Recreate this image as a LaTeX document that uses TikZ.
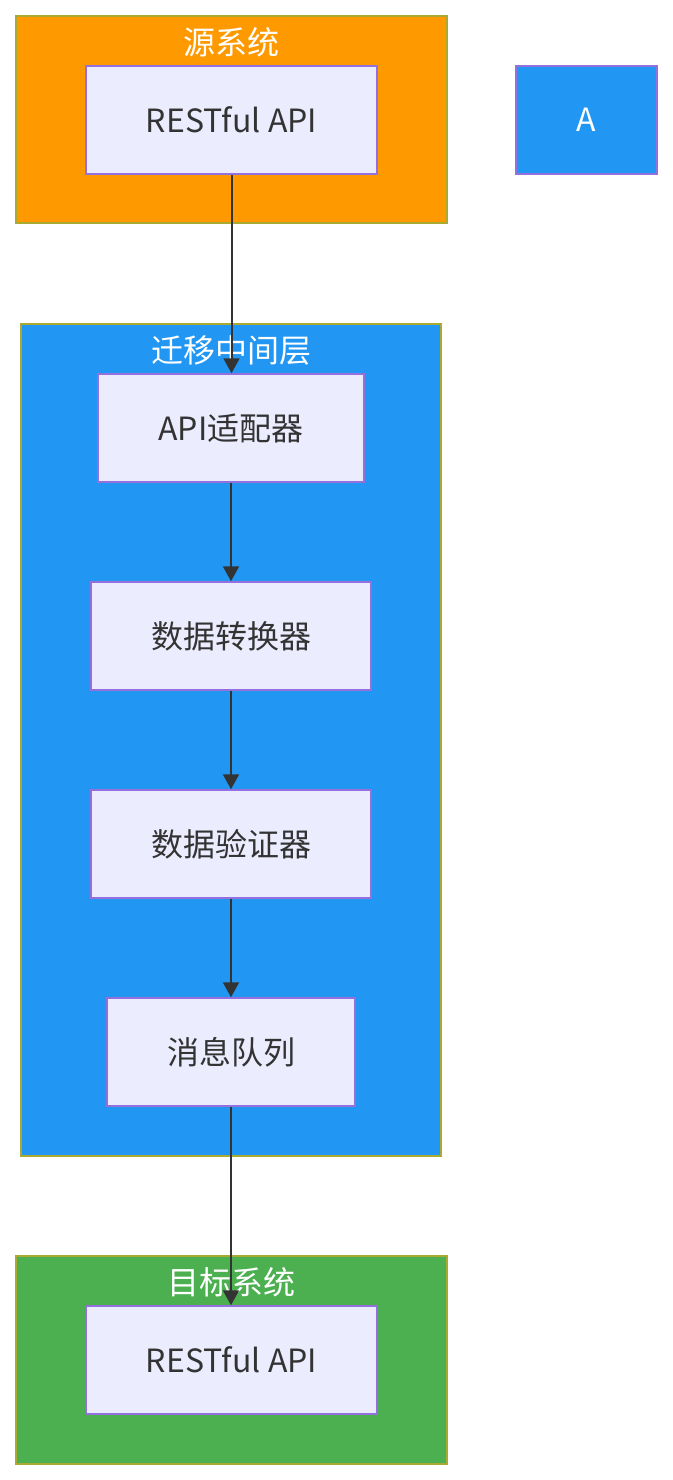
\documentclass[tikz,border=0pt]{standalone}
\usepackage{fontspec}
\setmainfont{Noto Sans CJK SC}
\usetikzlibrary{arrows.meta}
\definecolor{srcorange}{RGB}{255,153,0}
\definecolor{midblue}{RGB}{33,150,243}
\definecolor{tgtgreen}{RGB}{76,175,80}
\definecolor{clusterline}{RGB}{170,170,51}
\definecolor{boxline}{RGB}{147,112,219}
\definecolor{boxfill}{RGB}{236,236,255}
\definecolor{textgray}{RGB}{51,51,51}
\begin{document}
\begin{tikzpicture}[x=1pt,y=-1pt]
        \tikzstyle{every node}=[font=\fontsize{32}{36}\selectfont, inner sep=0pt]
        \tikzstyle{cluster}=[draw=clusterline, line width=1.5pt, rectangle]
        \tikzstyle{box}=[draw=boxline, fill=boxfill, line width=1.5pt, rectangle, text=textgray, minimum height=108]
        \tikzstyle{title}=[text=white]
        \tikzstyle{flow}=[draw=textgray, line width=2pt, -{Triangle[length=15pt,width=16pt]}]

        \useasboundingbox (0,0) rectangle (672,1480);

        % clusters
        \node[cluster, fill=srcorange, minimum width=431, minimum height=207](src)at(231.5,119.5){};
        \node[cluster, fill=midblue, minimum width=420, minimum height=832](mid)at(231,740){};
        \node[cluster, fill=tgtgreen, minimum width=431, minimum height=208](tgt)at(231.5,1360){};

        \node[title](srctitle)at(231,42){源系统};
        \node[title](midtitle)at(231,350){迁移中间层};
        \node[title](tgttitle)at(231,1282){目标系统};

        % boxes
        \node[box, minimum width=291](srcapi)at(231.5,120){RESTful API};
        \node[box, fill=midblue, text=white, minimum width=141](a)at(586.5,120){A};
        \node[box, minimum width=266](adapter)at(231,428){API适配器};
        \node[box, minimum width=280](converter)at(231,636){数据转换器};
        \node[box, minimum width=280](validator)at(231,844){数据验证器};
        \node[box, minimum width=248](queue)at(231,1052){消息队列};
        \node[box, minimum width=291](tgtapi)at(231.5,1360){RESTful API};

        \draw[flow] (srcapi.south) -- (srcapi.south |- adapter.north);
        \draw[flow] (adapter) -- (converter);
        \draw[flow] (converter) -- (validator);
        \draw[flow] (validator) -- (queue);
        \draw[flow] (queue.south) -- (queue.south |- tgtapi.north);
    \end{tikzpicture}
\end{document}
